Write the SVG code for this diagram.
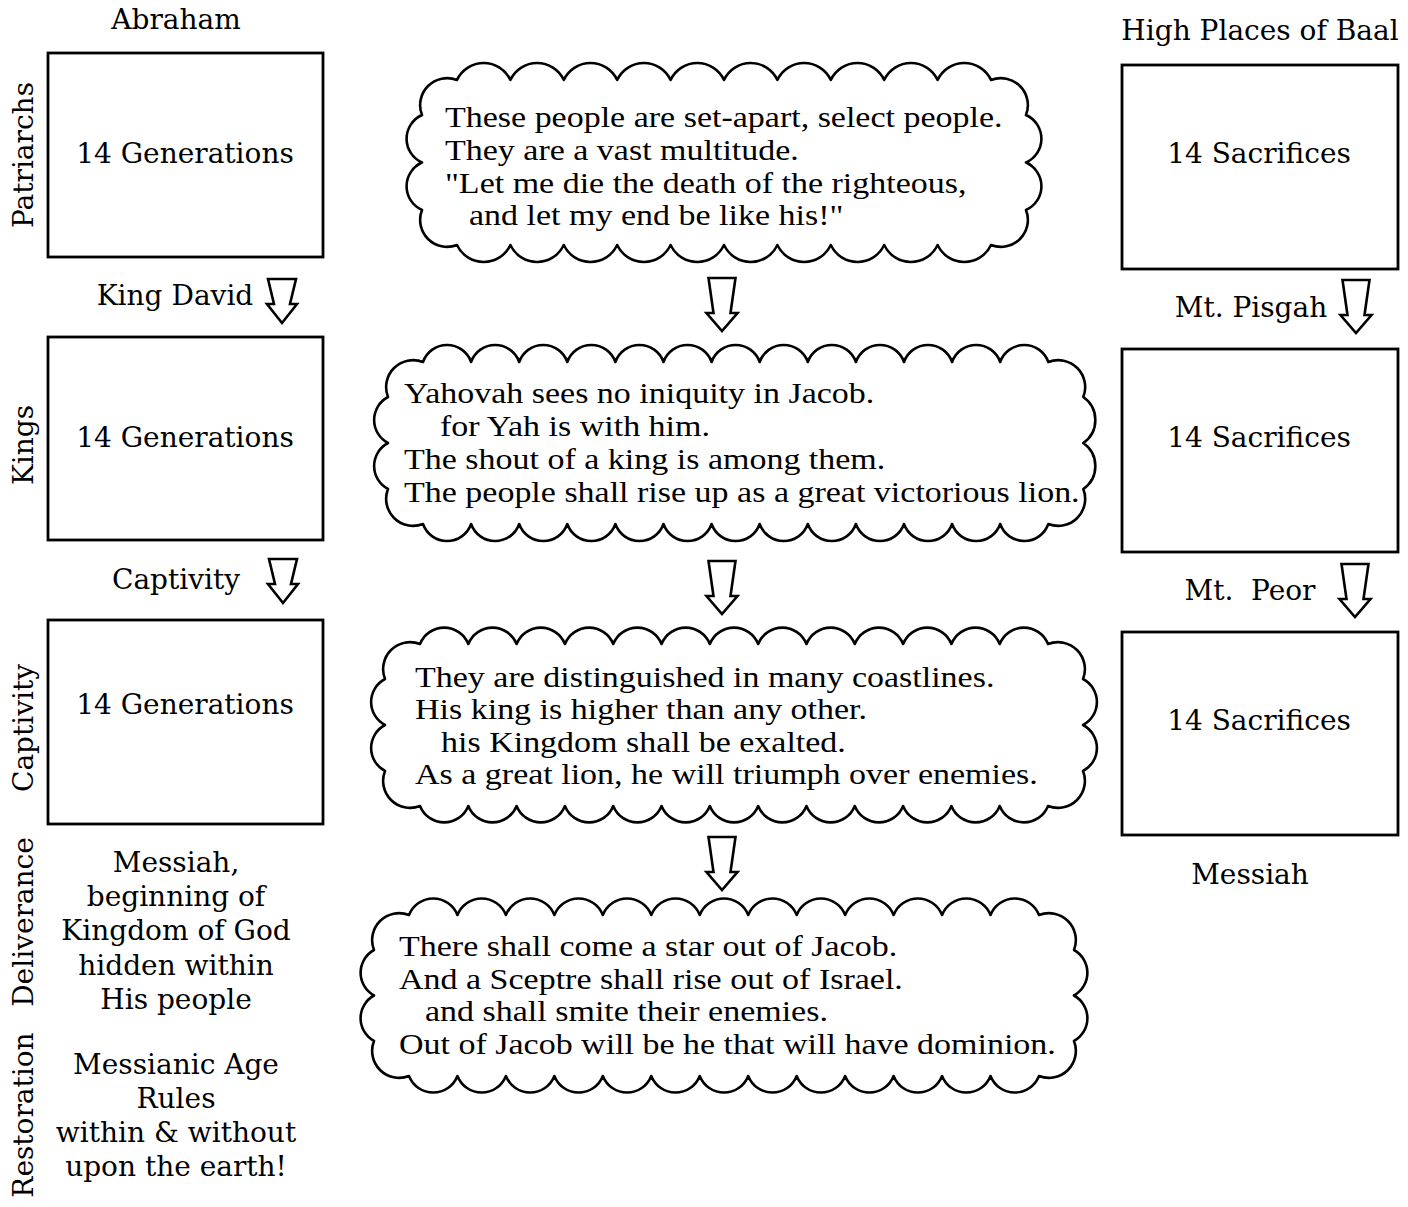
<svg xmlns="http://www.w3.org/2000/svg" width="1408" height="1207" viewBox="0 0 1408 1207">
<style>
.box{fill:#fff;stroke:#000;stroke-width:2.8}
.cloud{fill:#fff;stroke:#000;stroke-width:2.6;stroke-linejoin:round}
.arr{fill:#fff;stroke:#000;stroke-width:2.6;stroke-linejoin:miter}
.lbl{font-family:"DejaVu Serif","Liberation Serif",serif;font-size:28px;fill:#000;text-anchor:middle}
.ct{font-family:"Liberation Serif","Times New Roman",serif;font-size:30px;fill:#000}
</style>
<defs>
<path id="arrS" d="M-14 0 H14 L8 25 L15 25 L0 44 L-15 25 L-8 25 Z"/>
<path id="arrT" d="M-13.5 0 H13.5 L8.5 35 L15.5 35 L0 53 L-15.5 35 L-8.5 35 Z"/>
</defs>
<rect width="1408" height="1207" fill="#fff"/>

<g id="col-left">
<text class="lbl" x="176" y="29">Abraham</text>
<g id="box-patriarchs"><rect class="box" x="48" y="53" width="275" height="204"/><text class="lbl" x="185" y="163">14 Generations</text></g>
<text class="lbl" x="175" y="305">King David</text>
<g id="box-kings"><rect class="box" x="48" y="337" width="275" height="203"/><text class="lbl" x="185" y="447">14 Generations</text></g>
<text class="lbl" x="176" y="589">Captivity</text>
<g id="box-captivity"><rect class="box" x="48" y="620" width="275" height="204"/><text class="lbl" x="185" y="714">14 Generations</text></g>
<g id="deliverance-text">
<text class="lbl" x="176" y="872">Messiah,</text>
<text class="lbl" x="176" y="906">beginning of</text>
<text class="lbl" x="176" y="940">Kingdom of God</text>
<text class="lbl" x="176" y="975">hidden within</text>
<text class="lbl" x="176" y="1009">His people</text>
</g>
<g id="restoration-text">
<text class="lbl" x="176" y="1074">Messianic Age</text>
<text class="lbl" x="176" y="1108">Rules</text>
<text class="lbl" x="176" y="1142">within &amp; without</text>
<text class="lbl" x="176" y="1176">upon the earth!</text>
</g>
</g>

<g id="vertical-labels">
<text class="lbl" transform="translate(33,155) rotate(-90)">Patriarchs</text>
<text class="lbl" transform="translate(33,445) rotate(-90)">Kings</text>
<text class="lbl" transform="translate(33,728) rotate(-90)">Captivity</text>
<text class="lbl" transform="translate(33,922) rotate(-90)">Deliverance</text>
<text class="lbl" transform="translate(33,1115) rotate(-90)">Restoration</text>
</g>

<g id="col-right">
<text class="lbl" x="1260" y="40">High Places of Baal</text>
<g id="box-sac1"><rect class="box" x="1122" y="65" width="276" height="204"/><text class="lbl" x="1259" y="163">14 Sacrifices</text></g>
<text class="lbl" x="1251" y="317">Mt. Pisgah</text>
<g id="box-sac2"><rect class="box" x="1122" y="349" width="276" height="203"/><text class="lbl" x="1259" y="447">14 Sacrifices</text></g>
<text class="lbl" x="1250" y="600" xml:space="preserve">Mt.  Peor</text>
<g id="box-sac3"><rect class="box" x="1122" y="632" width="276" height="203"/><text class="lbl" x="1259" y="730">14 Sacrifices</text></g>
<text class="lbl" x="1250" y="884">Messiah</text>
</g>

<g id="cloud1">
<path class="cloud" d="M457 80 a29.5 29.5 0 0 1 53.4 0 a29.5 29.5 0 0 1 53.4 0 a29.5 29.5 0 0 1 53.4 0 a29.5 29.5 0 0 1 53.4 0 a29.5 29.5 0 0 1 53.4 0 a29.5 29.5 0 0 1 53.4 0 a29.5 29.5 0 0 1 53.4 0 a29.5 29.5 0 0 1 53.4 0 a29.5 29.5 0 0 1 53.4 0 a29.5 29.5 0 0 1 53.4 0 a27 27 0 0 1 35 35 a26 26 0 0 1 0 47.5 a26 26 0 0 1 0 47.5 a27 27 0 0 1 -35 35 a29.5 29.5 0 0 1 -53.4 0 a29.5 29.5 0 0 1 -53.4 0 a29.5 29.5 0 0 1 -53.4 0 a29.5 29.5 0 0 1 -53.4 0 a29.5 29.5 0 0 1 -53.4 0 a29.5 29.5 0 0 1 -53.4 0 a29.5 29.5 0 0 1 -53.4 0 a29.5 29.5 0 0 1 -53.4 0 a29.5 29.5 0 0 1 -53.4 0 a29.5 29.5 0 0 1 -53.4 0 a27 27 0 0 1 -35 -35 a26 26 0 0 1 0 -47.5 a26 26 0 0 1 0 -47.5 a27 27 0 0 1 35 -35 Z"/>
<text class="ct" transform="translate(445,127) scale(1.133,1)">These people are set-apart, select people.</text>
<text class="ct" transform="translate(445,160) scale(1.133,1)">They are a vast multitude.</text>
<text class="ct" transform="translate(445,193) scale(1.133,1)">"Let me die the death of the righteous,</text>
<text class="ct" transform="translate(469,225) scale(1.133,1)">and let my end be like his!"</text>
</g>

<g id="cloud2">
<path class="cloud" d="M423 362 a25.5 25.5 0 0 1 48.1 0 a25.5 25.5 0 0 1 48.1 0 a25.5 25.5 0 0 1 48.1 0 a25.5 25.5 0 0 1 48.1 0 a25.5 25.5 0 0 1 48.1 0 a25.5 25.5 0 0 1 48.1 0 a25.5 25.5 0 0 1 48.1 0 a25.5 25.5 0 0 1 48.1 0 a25.5 25.5 0 0 1 48.1 0 a25.5 25.5 0 0 1 48.1 0 a25.5 25.5 0 0 1 48.1 0 a25.5 25.5 0 0 1 48.1 0 a25.5 25.5 0 0 1 48.1 0 a27 27 0 0 1 35 35 a28 28 0 0 1 0 46 a28 28 0 0 1 0 46 a27 27 0 0 1 -35 35 a25.5 25.5 0 0 1 -48.1 0 a25.5 25.5 0 0 1 -48.1 0 a25.5 25.5 0 0 1 -48.1 0 a25.5 25.5 0 0 1 -48.1 0 a25.5 25.5 0 0 1 -48.1 0 a25.5 25.5 0 0 1 -48.1 0 a25.5 25.5 0 0 1 -48.1 0 a25.5 25.5 0 0 1 -48.1 0 a25.5 25.5 0 0 1 -48.1 0 a25.5 25.5 0 0 1 -48.1 0 a25.5 25.5 0 0 1 -48.1 0 a25.5 25.5 0 0 1 -48.1 0 a25.5 25.5 0 0 1 -48.1 0 a27 27 0 0 1 -35 -35 a26 26 0 0 1 0 -46 a26 26 0 0 1 0 -46 a27 27 0 0 1 35 -35 Z"/>
<text class="ct" transform="translate(404,403) scale(1.133,1)">Yahovah sees no iniquity in Jacob.</text>
<text class="ct" transform="translate(440,436) scale(1.133,1)">for Yah is with him.</text>
<text class="ct" transform="translate(404,469) scale(1.133,1)">The shout of a king is among them.</text>
<text class="ct" transform="translate(404,502) scale(1.133,1)">The people shall rise up as a great victorious lion.</text>
</g>

<g id="cloud3">
<path class="cloud" d="M420 644 a26 26 0 0 1 48.31 0 a26 26 0 0 1 48.31 0 a26 26 0 0 1 48.31 0 a26 26 0 0 1 48.31 0 a26 26 0 0 1 48.31 0 a26 26 0 0 1 48.31 0 a26 26 0 0 1 48.31 0 a26 26 0 0 1 48.31 0 a26 26 0 0 1 48.31 0 a26 26 0 0 1 48.31 0 a26 26 0 0 1 48.31 0 a26 26 0 0 1 48.31 0 a26 26 0 0 1 48.31 0 a27 27 0 0 1 35 35 a26 26 0 0 1 0 46 a26 26 0 0 1 0 46 a27 27 0 0 1 -35 35 a26 26 0 0 1 -48.31 0 a26 26 0 0 1 -48.31 0 a26 26 0 0 1 -48.31 0 a26 26 0 0 1 -48.31 0 a26 26 0 0 1 -48.31 0 a26 26 0 0 1 -48.31 0 a26 26 0 0 1 -48.31 0 a26 26 0 0 1 -48.31 0 a26 26 0 0 1 -48.31 0 a26 26 0 0 1 -48.31 0 a26 26 0 0 1 -48.31 0 a26 26 0 0 1 -48.31 0 a26 26 0 0 1 -48.31 0 a27 27 0 0 1 -35 -35 a26 26 0 0 1 0 -46 a26 26 0 0 1 0 -46 a27 27 0 0 1 35 -35 Z"/>
<text class="ct" transform="translate(415,687) scale(1.133,1)">They are distinguished in many coastlines.</text>
<text class="ct" transform="translate(415,719) scale(1.133,1)">His king is higher than any other.</text>
<text class="ct" transform="translate(441,752) scale(1.133,1)">his Kingdom shall be exalted.</text>
<text class="ct" transform="translate(415,784) scale(1.133,1)">As a great lion, he will triumph over enemies.</text>
</g>

<g id="cloud4">
<path class="cloud" d="M409 915 a26 26 0 0 1 48.46 0 a26 26 0 0 1 48.46 0 a26 26 0 0 1 48.46 0 a26 26 0 0 1 48.46 0 a26 26 0 0 1 48.46 0 a26 26 0 0 1 48.46 0 a26 26 0 0 1 48.46 0 a26 26 0 0 1 48.46 0 a26 26 0 0 1 48.46 0 a26 26 0 0 1 48.46 0 a26 26 0 0 1 48.46 0 a26 26 0 0 1 48.46 0 a26 26 0 0 1 48.46 0 a27 27 0 0 1 35 35 a26 26 0 0 1 0 45.5 a26 26 0 0 1 0 45.5 a27 27 0 0 1 -35 35 a26 26 0 0 1 -48.46 0 a26 26 0 0 1 -48.46 0 a26 26 0 0 1 -48.46 0 a26 26 0 0 1 -48.46 0 a26 26 0 0 1 -48.46 0 a26 26 0 0 1 -48.46 0 a26 26 0 0 1 -48.46 0 a26 26 0 0 1 -48.46 0 a26 26 0 0 1 -48.46 0 a26 26 0 0 1 -48.46 0 a26 26 0 0 1 -48.46 0 a26 26 0 0 1 -48.46 0 a26 26 0 0 1 -48.46 0 a27 27 0 0 1 -35 -35 a26 26 0 0 1 0 -45.5 a26 26 0 0 1 0 -45.5 a27 27 0 0 1 35 -35 Z"/>
<text class="ct" transform="translate(399,956) scale(1.133,1)">There shall come a star out of Jacob.</text>
<text class="ct" transform="translate(399,989) scale(1.133,1)">And a Sceptre shall rise out of Israel.</text>
<text class="ct" transform="translate(425,1021) scale(1.133,1)">and shall smite their enemies.</text>
<text class="ct" transform="translate(399,1054) scale(1.133,1)">Out of Jacob will be he that will have dominion.</text>
</g>

<g id="connectors">
<use href="#arrS" class="arr" x="282" y="279"/>
<use href="#arrS" class="arr" x="283" y="559"/>
<use href="#arrT" class="arr" x="722" y="278"/>
<use href="#arrT" class="arr" x="722" y="561"/>
<use href="#arrT" class="arr" x="722" y="837"/>
<use href="#arrT" class="arr" x="1356" y="280"/>
<use href="#arrT" class="arr" x="1355" y="564"/>
</g>
</svg>
